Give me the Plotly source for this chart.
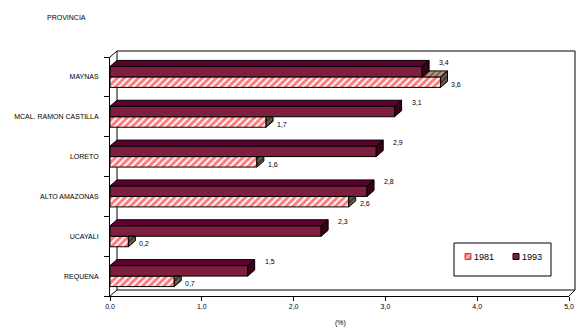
import plotly.graph_objects as go

# ---------------- data ----------------
categories = ["MAYNAS", "MCAL. RAMON CASTILLA", "LORETO", "ALTO AMAZONAS", "UCAYALI", "REQUENA"]
v1981 = [3.6, 1.7, 1.6, 2.6, 0.2, 0.7]
v1993 = [3.4, 3.1, 2.9, 2.8, 2.3, 1.5]
series_names = ["1981", "1993"]
x_ticks = [0, 1, 2, 3, 4, 5]

# ---------------- geometry ----------------
W, H = 586, 336
L, R, T, B = 110, 17, 57, 40
PW, PH = W - L - R, H - T - B
n = len(categories)
pos = [n - 1 - i for i in range(n)]
YR = [-0.5, n - 0.5]
XR = [0, 5]
ppx = PW / (XR[1] - XR[0])
ppy = PH / (YR[1] - YR[0])
DXP, DYP = 7, 6          # 3D depth in pixels
dx, dy = DXP / ppx, DYP / ppy
bw = 10.5 / ppy          # bar thickness in y units

FONT = "Liberation Sans, Arial, sans-serif"
C93_FRONT, C93_TOP, C93_SIDE = "#7F1F40", "#5E0030", "#3A0016"
PINK = "#FF7A7A"


def X(px):
    return (px - L) / PW


def Y(py):
    return (H - B - py) / PH


def fmt(v):
    return f"{v:.1f}".replace(".", ",")


def polys(list_of_pts):
    xs, ys = [], []
    for pts in list_of_pts:
        for (a, b) in pts:
            xs.append(a)
            ys.append(b)
        xs += [pts[0][0], None]
        ys += [pts[0][1], None]
    return xs, ys


fig = go.Figure()

# front faces
fig.add_trace(go.Bar(
    name=series_names[0], y=pos, x=v1981, orientation="h", base=0,
    width=bw, offset=-bw,
    marker=dict(color="white",
                pattern=dict(shape="/", fgcolor=PINK, bgcolor="white", size=5, solidity=0.6),
                line=dict(color="black", width=1)),
    hoverinfo="skip", showlegend=False))
fig.add_trace(go.Bar(
    name=series_names[1], y=pos, x=v1993, orientation="h", base=0,
    width=bw, offset=0,
    marker=dict(color=C93_FRONT, line=dict(color="black", width=1)),
    hoverinfo="skip", showlegend=False))

# 3D faces derived from the data
r81, t81, t93, r93 = [], [], [], []
for p, a, b in zip(pos, v1981, v1993):
    y0, y1 = p - bw, p
    if a >= b:
        r81.append([(a, y0), (a + dx, y0 + dy), (a + dx, y1 + dy), (a, y1)])
        t81.append([(b, y1), (a, y1), (a + dx, y1 + dy), (b + dx, y1 + dy)])
    else:
        r81.append([(a, y0), (a + dx, y0 + dy), (a + dx, y1), (a, y1)])
    t93.append([(0, p + bw), (b, p + bw), (b + dx, p + bw + dy), (dx, p + bw + dy)])
    r93.append([(b, p), (b + dx, p + dy), (b + dx, p + bw + dy), (b, p + bw)])

face_specs = [
    (r81, dict(shape="/", bgcolor="#6E5E4E", fgcolor="#40342A", size=4, solidity=0.5), None),
    (t81, dict(shape="/", bgcolor="#C0A080", fgcolor="#7E6044", size=4, solidity=0.5), None),
    (t93, None, C93_TOP),
    (r93, None, C93_SIDE),
]
for pl, pat, col in face_specs:
    if not pl:
        continue
    xs, ys = polys(pl)
    kw = dict(x=xs, y=ys, mode="lines", fill="toself",
              line=dict(color="black", width=1), hoverinfo="skip", showlegend=False)
    if pat:
        kw["fillpattern"] = pat
        kw["fillcolor"] = pat["bgcolor"]
    else:
        kw["fillcolor"] = col
    fig.add_trace(go.Scatter(**kw))

TXT = dict(size=7, color="black", family=FONT)

# value labels
ann = []
for p, a, b in zip(pos, v1981, v1993):
    ann.append(dict(x=b, y=p + bw, text=fmt(b), xanchor="left", yanchor="middle",
                    xshift=15, yshift=4, showarrow=False, font=TXT))
    ann.append(dict(x=a, y=p - bw, text=fmt(a), xanchor="left", yanchor="middle",
                    xshift=9, yshift=3, showarrow=False, font=TXT))

# custom legend texts
ann.append(dict(xref="paper", yref="paper", x=X(472), y=Y(256.5), text=series_names[0],
                xanchor="left", yanchor="middle", showarrow=False,
                font=dict(size=9, color="black", family=FONT)))
ann.append(dict(xref="paper", yref="paper", x=X(520), y=Y(256.5), text=series_names[1],
                xanchor="left", yanchor="middle", showarrow=False,
                font=dict(size=9, color="black", family=FONT)))
# axis title & header
ann.append(dict(xref="paper", yref="paper", x=X(340), y=Y(323), text="(%)",
                xanchor="center", yanchor="middle", showarrow=False, font=TXT))
ann.append(dict(xref="paper", yref="paper", x=X(45), y=Y(18), text="PROVINCIA",
                xanchor="left", yanchor="middle", showarrow=False, font=TXT))

# 3D walls (style only)
ddx, ddy = DXP / PW, DYP / PH
line_k = dict(color="black", width=1)
shapes = [
    dict(type="rect", xref="paper", yref="paper", x0=ddx, x1=X(575), y0=ddy, y1=1 + ddy,
         line=line_k, fillcolor="white", layer="below"),
    dict(type="line", xref="paper", yref="paper", x0=0, y0=1, x1=ddx, y1=1 + ddy, line=line_k, layer="below"),
    dict(type="line", xref="paper", yref="paper", x0=0, y0=0, x1=ddx, y1=ddy, line=line_k, layer="below"),
    dict(type="line", xref="paper", yref="paper", x0=1, y0=0, x1=X(575), y1=ddy, line=line_k, layer="below"),
    # legend box
    dict(type="rect", xref="paper", yref="paper", x0=X(454), x1=X(551), y0=Y(276), y1=Y(243),
         line=line_k, fillcolor="white", layer="below"),
    # legend symbols
    dict(type="rect", xref="paper", yref="paper", x0=X(465), x1=X(471), y0=Y(259.5), y1=Y(253.5),
         line=dict(color="#E03030", width=1), fillcolor=PINK, layer="above"),
    dict(type="line", xref="paper", yref="paper", x0=X(466), x1=X(470), y0=Y(258.5), y1=Y(254.5),
         line=dict(color="white", width=1), layer="above"),
    dict(type="rect", xref="paper", yref="paper", x0=X(513), x1=X(519), y0=Y(259.5), y1=Y(253.5),
         line=dict(color="black", width=1), fillcolor=C93_FRONT, layer="above"),
]

fig.update_layout(
    template="none",
    width=W, height=H, margin=dict(l=L, r=R, t=T, b=B),
    paper_bgcolor="white", plot_bgcolor="white",
    barmode="overlay", separators=",.",
    font=dict(family=FONT, size=7, color="black"),
    showlegend=False, annotations=ann, shapes=shapes,
    xaxis=dict(range=XR, tickvals=x_ticks, tickformat=".1f", showgrid=False, zeroline=False,
               showline=True, linecolor="black", linewidth=1, ticks="outside", ticklen=4,
               tickcolor="black", tickfont=TXT),
    yaxis=dict(range=YR, tickvals=pos, ticktext=categories, showgrid=False, zeroline=False,
               showline=True, linecolor="black", linewidth=1, ticks="", ticklabelstandoff=9,
               tickfont=TXT,
               minor=dict(tickmode="array", tickvals=[k - 0.5 for k in range(n + 1)],
                          ticks="outside", ticklen=5, tickcolor="black", showgrid=False)),
)

fig.write_html("out.html")
